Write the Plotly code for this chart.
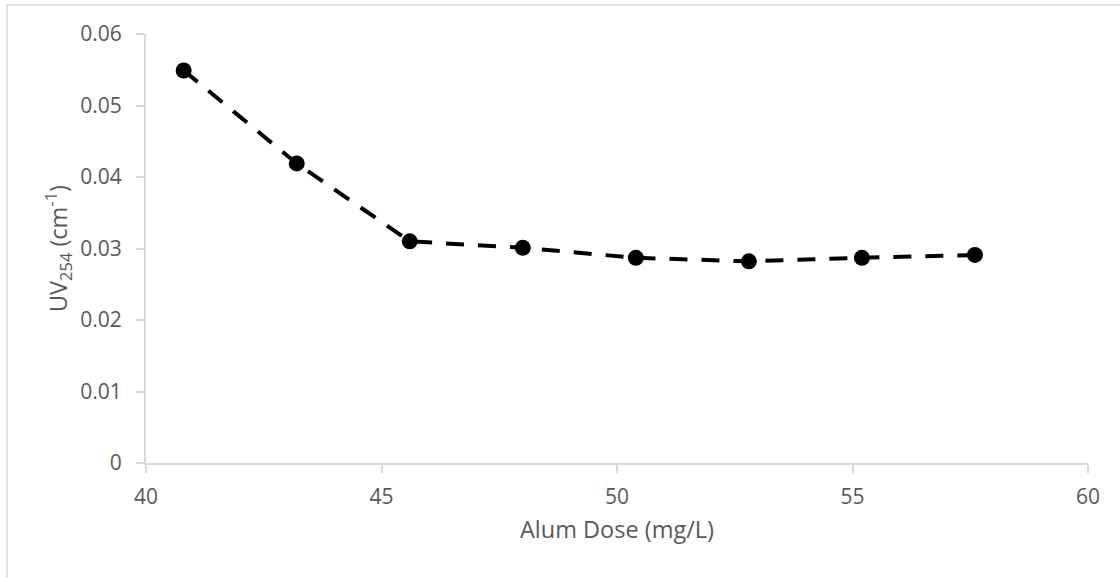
import plotly.graph_objects as go

alum_dose = [40.8, 43.2, 45.6, 48.0, 50.4, 52.8, 55.2, 57.6]
uv254 = [0.0549, 0.0419, 0.0310, 0.0301, 0.0287, 0.0282, 0.0287, 0.0291]
x_ticks = [40, 45, 50, 55, 60]
y_ticks = [0, 0.01, 0.02, 0.03, 0.04, 0.05, 0.06]
y_tick_text = ["0", "0.01", "0.02", "0.03", "0.04", "0.05", "0.06"]

fig = go.Figure()
fig.add_trace(go.Scatter(
    x=alum_dose, y=uv254, mode="lines+markers",
    line=dict(color="black", width=4, dash="18px,14px"),
    marker=dict(color="black", size=16),
    showlegend=False,
))

tick_font = dict(family="Open Sans", size=21, color="#595959")
title_font = dict(family="Open Sans", size=23.5, color="#595959")
fig.update_layout(
    width=1120, height=578,
    margin=dict(l=146, r=32, t=34, b=115),
    paper_bgcolor="white", plot_bgcolor="white",
    font=tick_font,
    xaxis=dict(
        range=[40, 60], tickvals=x_ticks, showgrid=False, zeroline=False,
        showline=True, linecolor="#d9d9d9", linewidth=2,
        ticks="outside", ticklen=8, tickcolor="#d9d9d9", tickwidth=2,
        tickfont=tick_font, ticklabelstandoff=6,
        title=dict(text="Alum Dose (mg/L)", font=title_font, standoff=12),
    ),
    yaxis=dict(
        range=[0, 0.06], tickvals=y_ticks, ticktext=y_tick_text, showgrid=False, zeroline=False,
        showline=True, linecolor="#d9d9d9", linewidth=2,
        ticks="outside", ticklen=8, tickcolor="#d9d9d9", tickwidth=2,
        tickfont=tick_font, ticklabelstandoff=10,
        title=dict(text="UV<sub>254</sub> (cm<sup>-1</sup>)", font=title_font, standoff=6),
    ),
    shapes=[dict(type="rect", xref="paper", yref="paper",
                 x0=-139 / 942, x1=1.2, y0=-0.4, y1=(463 - 5) / 429,
                 line=dict(color="#d9d9d9", width=1.5), layer="below")],
)
fig.write_html("out.html")
